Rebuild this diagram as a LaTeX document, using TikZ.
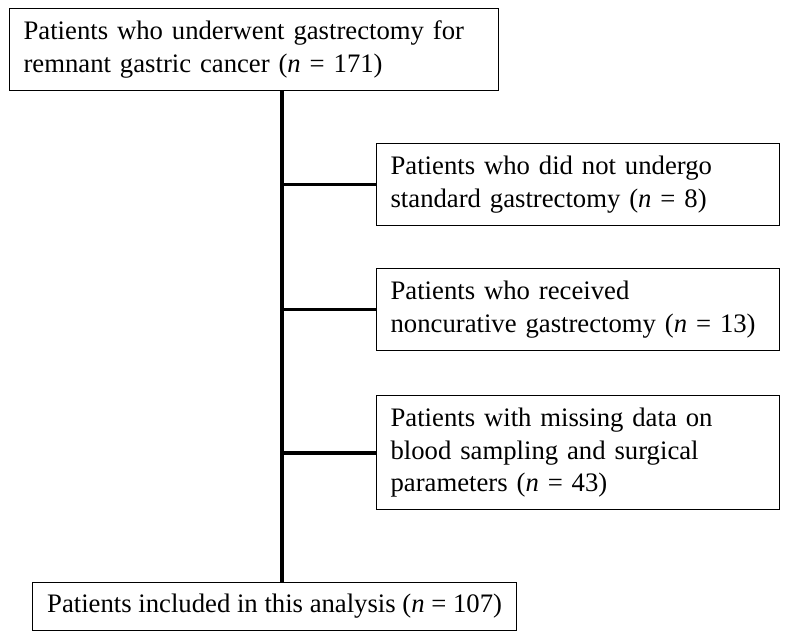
\documentclass[tikz,border=0pt]{standalone}
\usepackage{fontspec}
\setmainfont{Liberation Serif}
\usepackage{tikz}
\usetikzlibrary{positioning}
\hyphenpenalty=10000

\begin{document}
\begin{tikzpicture}[x=1pt, y=-1pt,
	b/.style={draw, line width=1.2pt, align=left, anchor=north west, inner xsep=14pt,
		font=\fontsize{26.7}{32.5}\selectfont},
	link/.style={line width=3.8pt}]
	\useasboundingbox (0,0) rectangle (787,636);

	\node [b, text width=461pt, minimum height=82pt] at (9,8) (all)
		{Patients who underwent gastrectomy for\\remnant gastric cancer (\textit{n} = 171)};
	\node [b, text width=375pt, minimum height=82pt] at (376,143) (ns)
		{Patients who did not undergo\\standard gastrectomy (\textit{n} = 8)};
	\node [b, text width=375pt, minimum height=82pt] at (376,268) (nc)
		{Patients who received\\noncurative gastrectomy (\textit{n} = 13)};
	\node [b, text width=375pt, minimum height=114pt] at (376,395) (md)
		{Patients with missing data on\\blood sampling and surgical\\parameters (\textit{n} = 43)};
	\node [b, minimum width=484pt, minimum height=48pt, inner xsep=0pt] at (32,582) (inc)
		{Patients included in this analysis (\textit{n} = 107)};

	\coordinate (trunk) at (282,0);
	\draw [link] (all.south -| trunk) -- (inc.north -| trunk);
	\draw [link] (ns.west -| trunk) -- (ns.west);
	\draw [link] (nc.west -| trunk) -- (nc.west);
	\draw [link] (md.west -| trunk) -- (md.west);
\end{tikzpicture}
\end{document}
